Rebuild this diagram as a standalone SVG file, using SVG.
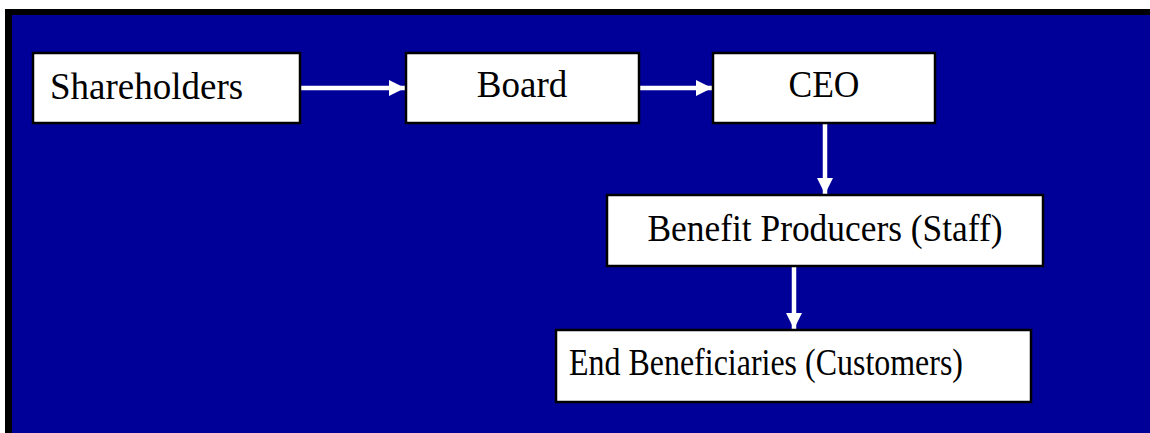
<svg xmlns="http://www.w3.org/2000/svg" width="1150" height="433" viewBox="0 0 1150 433">
<defs>
<style>
.box{fill:#ffffff;stroke:#000000;stroke-width:2.5}
.lbl{font-family:"Liberation Serif","Times New Roman",serif;font-size:37px;fill:#000000}
.c{text-anchor:middle}
.conn{stroke:#ffffff;stroke-width:4.5;fill:none}
</style>
<marker id="ah" viewBox="0 0 16 16" refX="16" refY="8" markerWidth="16" markerHeight="16" markerUnits="userSpaceOnUse" orient="auto">
<path d="M0,0 L16,8 L0,16 Z" fill="#ffffff"/>
</marker>
</defs>
<rect x="0" y="0" width="1150" height="433" fill="#ffffff"/>
<rect x="5" y="9" width="1145" height="424" fill="#000000"/>
<rect x="12" y="15" width="1138" height="418" fill="#000099"/>
<g id="connectors">
<line class="conn" x1="301" y1="88" x2="405" y2="88" marker-end="url(#ah)"/>
<line class="conn" x1="640" y1="88" x2="712" y2="88" marker-end="url(#ah)"/>
<line class="conn" x1="825" y1="124" x2="825" y2="194" marker-end="url(#ah)"/>
<line class="conn" x1="794" y1="267" x2="794" y2="329" marker-end="url(#ah)"/>
</g>
<g id="shareholders">
<rect class="box" x="33" y="53" width="267" height="70"/>
<text class="lbl" x="50" y="99">Shareholders</text>
</g>
<g id="board">
<rect class="box" x="406" y="53" width="233" height="70"/>
<text class="lbl c" x="522" y="97">Board</text>
</g>
<g id="ceo">
<rect class="box" x="713" y="53" width="222" height="70"/>
<text class="lbl c" x="824" y="97" textLength="71" lengthAdjust="spacingAndGlyphs">CEO</text>
</g>
<g id="staff">
<rect class="box" x="607" y="195" width="436" height="71"/>
<text class="lbl c" x="825" y="241" textLength="355" lengthAdjust="spacingAndGlyphs">Benefit Producers (Staff)</text>
</g>
<g id="customers">
<rect class="box" x="556" y="330" width="475" height="72"/>
<text class="lbl" x="569" y="375" textLength="394" lengthAdjust="spacingAndGlyphs">End Beneficiaries (Customers)</text>
</g>
</svg>
